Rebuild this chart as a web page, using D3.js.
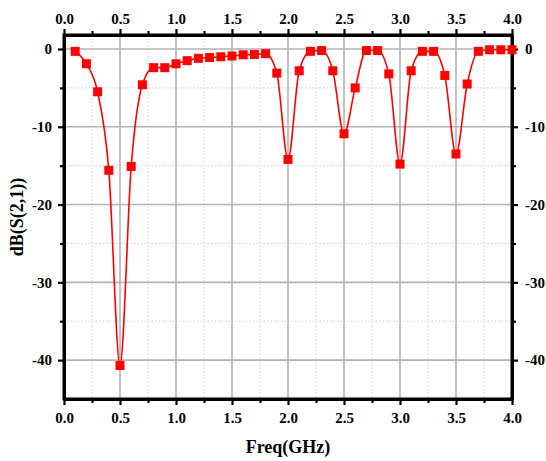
<!DOCTYPE html>
<html>
<head>
<meta charset="utf-8">
<script src="https://cdn.jsdelivr.net/npm/d3@7"></script>
<style>
  html, body { margin: 0; padding: 0; background: #fff; }
  svg { display: block; }
  text { font-family: "Liberation Serif", "Times New Roman", serif; font-weight: bold; fill: #000; }
</style>
</head>
<body>
<svg id="chart" width="546" height="461"></svg>
<script>
// Transmission S21 sampled every 0.1 GHz
const freqGHz = [0.1, 0.2, 0.3, 0.4, 0.5, 0.6, 0.7, 0.8, 0.9, 1.0,
                 1.1, 1.2, 1.3, 1.4, 1.5, 1.6, 1.7, 1.8, 1.9, 2.0,
                 2.1, 2.2, 2.3, 2.4, 2.5, 2.6, 2.7, 2.8, 2.9, 3.0,
                 3.1, 3.2, 3.3, 3.4, 3.5, 3.6, 3.7, 3.8, 3.9, 4.0];
const s21dB = [-0.3, -1.9, -5.5, -15.6, -40.7, -15.1, -4.6, -2.4, -2.4, -1.9,
               -1.5, -1.2, -1.1, -1.0, -0.9, -0.75, -0.7, -0.6, -3.1, -14.2,
               -2.8, -0.3, -0.2, -2.8, -10.9, -5.0, -0.2, -0.2, -3.2, -14.8,
               -2.8, -0.3, -0.3, -3.4, -13.5, -4.5, -0.3, -0.1, -0.1, -0.1];
const xMajorTicks = [0, 0.5, 1.0, 1.5, 2.0, 2.5, 3.0, 3.5, 4.0];
const xMinorTicks = [0.25, 0.75, 1.25, 1.75, 2.25, 2.75, 3.25, 3.75];
const yMajorTicks = [0, -10, -20, -30, -40];
const yMinorTicks = [-5, -15, -25, -35];
const xTitle = "Freq(GHz)";
const yTitle = "dB(S(2,1))";

const svg = d3.select("#chart");
const L = 64, R = 512, T = 35, B = 399;

const x = d3.scaleLinear().domain([0, 4]).range([L, R]);
const y = d3.scaleLinear().domain([-45, 1.8]).range([B, T]);

// grid
const grid = svg.append("g");
grid.selectAll(".gxm").data(xMinorTicks).join("line")
  .attr("x1", d => x(d)).attr("x2", d => x(d)).attr("y1", T).attr("y2", B)
  .attr("stroke", "#cfcfcf").attr("stroke-width", 1).attr("stroke-dasharray", "1.5,2");
grid.selectAll(".gym").data(yMinorTicks).join("line")
  .attr("y1", d => y(d)).attr("y2", d => y(d)).attr("x1", L).attr("x2", R)
  .attr("stroke", "#cfcfcf").attr("stroke-width", 1).attr("stroke-dasharray", "1.5,2");
grid.selectAll(".gx").data(xMajorTicks.slice(1, -1)).join("line")
  .attr("x1", d => x(d)).attr("x2", d => x(d)).attr("y1", T).attr("y2", B)
  .attr("stroke", "#b3b3b3").attr("stroke-width", 1.6);
grid.selectAll(".gy").data(yMajorTicks).join("line")
  .attr("y1", d => y(d)).attr("y2", d => y(d)).attr("x1", L).attr("x2", R)
  .attr("stroke", "#b3b3b3").attr("stroke-width", 1.6);

// axes
function styleAxis(g) {
  g.select(".domain").attr("stroke", "#000").attr("stroke-width", 3);
  g.selectAll(".tick line").attr("stroke", "#000").attr("stroke-width", 2.2);
  g.selectAll("text").attr("font-size", 15).style("font-family", '"Liberation Serif", serif').style("font-weight", "bold");
}
const fmtX = d3.format(".1f");
const fmtY = d => String(d); // plain hyphen-minus

function addAxis(axisFn, scale, majors, minors, transform, fmt, pad) {
  const gMinor = svg.append("g").attr("transform", transform)
    .call(axisFn(scale).tickValues(minors).tickSize(4).tickFormat(""));
  gMinor.select(".domain").remove();
  gMinor.selectAll(".tick line").attr("stroke", "#000").attr("stroke-width", 2.2);
  const g = svg.append("g").attr("transform", transform)
    .call(axisFn(scale).tickValues(majors).tickSizeInner(6).tickSizeOuter(0).tickPadding(pad).tickFormat(fmt));
  styleAxis(g);
  return g;
}

addAxis(d3.axisBottom, x, xMajorTicks, xMinorTicks, `translate(0,${B})`, fmtX, 7);
addAxis(d3.axisTop, x, xMajorTicks, xMinorTicks, `translate(0,${T})`, fmtX, 5);
addAxis(d3.axisLeft, y, yMajorTicks, yMinorTicks, `translate(${L},0)`, fmtY, 6);
addAxis(d3.axisRight, y, yMajorTicks, yMinorTicks, `translate(${R},0)`, fmtY, 7);

// frame
svg.append("rect").attr("x", L).attr("y", T).attr("width", R - L).attr("height", B - T)
  .attr("fill", "none").attr("stroke", "#000").attr("stroke-width", 3);

// data
const pts = freqGHz.map((f, i) => [f, s21dB[i]]);
const line = d3.line().x(d => x(d[0])).y(d => y(d[1])).curve(d3.curveMonotoneX);
svg.append("path").datum(pts).attr("d", line)
  .attr("fill", "none").attr("stroke", "#ff0000").attr("stroke-width", 1.6);
const ms = 9;
svg.append("g").selectAll("rect").data(pts).join("rect")
  .attr("x", d => x(d[0]) - ms / 2).attr("y", d => y(d[1]) - ms / 2)
  .attr("width", ms).attr("height", ms).attr("fill", "#ff0000");

// titles
svg.append("text").attr("x", (L + R) / 2).attr("y", 453)
  .attr("text-anchor", "middle").attr("font-size", 18).text(xTitle);
svg.append("text").attr("transform", `translate(23,${(T + B) / 2}) rotate(-90)`)
  .attr("text-anchor", "middle").attr("font-size", 18).text(yTitle);
</script>
</body>
</html>
